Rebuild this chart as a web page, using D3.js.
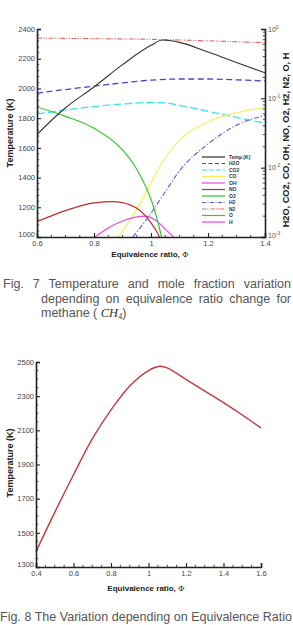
<!DOCTYPE html>
<html>
<head>
<meta charset="utf-8">
<script src="https://cdn.jsdelivr.net/npm/d3@7"></script>
<style>
  body { margin: 0; background: #fff; }
  svg { display: block; }
  .tick text { font-family: Arial, "Liberation Sans", sans-serif; fill: #444; }
  .cap { font-family: "Liberation Sans", Arial, sans-serif; fill: #555; font-size: 12.5px; }
  .ttl { font-family: Arial, "Liberation Sans", sans-serif; font-weight: bold; fill: #222; }
</style>
</head>
<body>
<div id="main"></div>
<script>
const ctx = { w: 293, h: 625 };

// ---- Fig. 7 data ----
const tempPhi = [0.6, 0.7, 0.8, 0.9, 1.0, 1.04, 1.1, 1.2, 1.3, 1.4];
const tempK   = [1690, 1870, 2010, 2160, 2290, 2326, 2310, 2245, 2175, 2105];

const h2oPhi = [0.6, 0.7, 0.8, 0.9, 1.0, 1.1, 1.2, 1.3, 1.4];
const h2oX   = [0.119, 0.134, 0.150, 0.167, 0.183, 0.190, 0.190, 0.185, 0.178];
const co2Phi = [0.6, 0.7, 0.8, 0.9, 1.0, 1.05, 1.1, 1.2, 1.3, 1.4];
const co2X   = [0.059, 0.068, 0.076, 0.083, 0.087, 0.086, 0.079, 0.065, 0.053, 0.044];
const coPhi  = [0.885, 0.95, 1.0, 1.05, 1.1, 1.15, 1.2, 1.3, 1.4];
const coX    = [0.001, 0.0025, 0.006, 0.014, 0.025, 0.036, 0.046, 0.062, 0.074];
const ohPhi  = [0.803, 0.85, 0.9, 0.95, 0.98, 1.02, 1.05, 1.08];
const ohX    = [0.001, 0.00135, 0.0017, 0.00195, 0.002, 0.0017, 0.0013, 0.001];
const noPhi  = [0.6, 0.7, 0.8, 0.87, 0.95, 1.0, 1.02, 1.03];
const noX    = [0.00166, 0.0024, 0.0031, 0.00323, 0.0026, 0.0016, 0.0012, 0.001];
const o2Phi  = [0.6, 0.7, 0.8, 0.9, 0.95, 0.98, 1.0, 1.02, 1.037];
const o2X    = [0.075, 0.055, 0.037, 0.018, 0.0095, 0.0055, 0.0035, 0.0019, 0.001];
const h2Phi  = [0.936, 1.0, 1.05, 1.1, 1.2, 1.3, 1.4];
const h2X    = [0.001, 0.0022, 0.0045, 0.009, 0.022, 0.041, 0.057];
const n2Phi  = [0.6, 0.8, 1.0, 1.2, 1.4];
const n2X    = [0.74, 0.725, 0.71, 0.675, 0.635];

const legendNames = ["Temp.(K)", "H2O", "CO2", "CO", "OH", "NO", "O2", "H2", "N2", "O", "H"];

// ---- Fig. 8 data ----
const flamePhi = [0.4, 0.5, 0.6, 0.7, 0.8, 0.9, 1.0, 1.06, 1.1, 1.2, 1.3, 1.4, 1.5, 1.6];
const flameK   = [1390, 1620, 1840, 2050, 2220, 2360, 2450, 2475, 2466, 2398, 2330, 2262, 2190, 2114];

const species = [
  { name: "H2O", phi: h2oPhi, x: h2oX, color: "#4444d8", dash: "6,3.5", w: 1.3 },
  { name: "CO2", phi: co2Phi, x: co2X, color: "#3ce4ec", dash: "8,3", w: 1.3 },
  { name: "CO",  phi: coPhi,  x: coX,  color: "#f4f25a", dash: null, w: 1.2 },
  { name: "OH",  phi: ohPhi,  x: ohX,  color: "#e64ae6", dash: null, w: 1.2 },
  { name: "NO",  phi: noPhi,  x: noX,  color: "#c42a2a", dash: null, w: 1.2 },
  { name: "O2",  phi: o2Phi,  x: o2X,  color: "#38c438", dash: null, w: 1.2 },
  { name: "H2",  phi: h2Phi,  x: h2X,  color: "#5a5ae0", dash: "5,2,1.2,2", w: 1.1 },
  { name: "N2",  phi: n2Phi,  x: n2X,  color: "#e06666", dash: "5,1.5,1,1.5,1,1.5", w: 1.1 }
];
const legendStyle = {
  "Temp.(K)": { color: "#333", dash: null },
  "H2O": { color: "#4444d8", dash: "4,2.5" },
  "CO2": { color: "#3ce4ec", dash: "5,2" },
  "CO":  { color: "#f4f25a", dash: null },
  "OH":  { color: "#e64ae6", dash: null },
  "NO":  { color: "#c42a2a", dash: null },
  "O2":  { color: "#38c438", dash: null },
  "H2":  { color: "#5a5ae0", dash: "4,1.5,1,1.5" },
  "N2":  { color: "#e06666", dash: "4,1,1,1,1,1" },
  "O":   { color: "#66b022", dash: null },
  "H":   { color: "#f040f0", dash: null }
};

function minorTicks(g, scale, values, len, dir, vertical) {
  values.forEach(v => {
    const p = scale(v);
    if (vertical) g.append("line").attr("x1", 0).attr("x2", dir * len).attr("y1", p).attr("y2", p);
    else g.append("line").attr("y1", 0).attr("y2", dir * len).attr("x1", p).attr("x2", p);
  });
  g.selectAll("line").attr("stroke", "#222").attr("stroke-width", 0.8);
}

function styleAxis(g) {
  g.select(".domain").attr("stroke", "#222").attr("stroke-width", 1.6);
  g.selectAll(".tick line").attr("stroke", "#222").attr("stroke-width", 1.1);
}

// spread words so the line fills the given width (justified caption)
function justify(t, width) {
  const words = t.text().split(" ").length - 1;
  let w = t.node().getComputedTextLength();
  let fs = 12.5;
  while (w > width && fs > 9) {
    fs -= 0.25;
    t.style("font-size", fs + "px");
    w = t.node().getComputedTextLength();
  }
  if (words > 0) t.attr("word-spacing", Math.max(0, (width - w) / words));
}

function drawFig7(svg) {
  const L = 37, R = 265, T = 29, B = 237;
  const x = d3.scaleLinear().domain([0.6, 1.4]).range([L, R]);
  const yT = d3.scaleLinear().domain([1000, 2400]).range([B, T]);
  const yX = d3.scaleLog().domain([1e-3, 1]).range([B, T]);

  svg.append("clipPath").attr("id", "c7")
    .append("rect").attr("x", L).attr("y", T - 2).attr("width", R - L).attr("height", B - T + 2);

  const plot = svg.append("g").attr("clip-path", "url(#c7)");
  const line = d3.line().curve(d3.curveMonotoneX);

  species.forEach(s => {
    plot.append("path")
      .attr("d", line(s.phi.map((p, i) => [x(p), yX(s.x[i])])))
      .attr("fill", "none").attr("stroke", s.color)
      .attr("stroke-width", s.w).attr("stroke-dasharray", s.dash);
  });
  plot.append("path")
    .attr("d", line(tempPhi.map((p, i) => [x(p), yT(tempK[i])])))
    .attr("fill", "none").attr("stroke", "#333").attr("stroke-width", 1.1);

  // axes
  const gx = svg.append("g").attr("transform", `translate(0,${B})`)
    .call(d3.axisBottom(x).tickValues([0.6, 0.8, 1, 1.2, 1.4]).tickSize(-4).tickPadding(3.5)
      .tickFormat(d3.format("~g")));
  gx.selectAll(".tick text").attr("font-size", 7.5);
  styleAxis(gx);
  minorTicks(gx.append("g"), x, d3.range(0.65, 1.4, 0.05).filter(v => Math.round(v * 100) % 20 !== 0), 2.2, -1, false);

  const gl = svg.append("g").attr("transform", `translate(${L},0)`)
    .call(d3.axisLeft(yT).tickValues(d3.range(1000, 2401, 200)).tickSize(-4).tickPadding(2)
      .tickFormat(d3.format("d")));
  gl.selectAll(".tick text").attr("font-size", 7.5).attr("dy", d => d === 1000 ? "-0.05em" : "0.3em");
  styleAxis(gl);
  minorTicks(gl.append("g"), yT, d3.range(1040, 2400, 40).filter(v => v % 200 !== 0), 2.2, 1, true);

  const gr = svg.append("g").attr("transform", `translate(${R},0)`)
    .call(d3.axisRight(yX).tickValues([1e-3, 1e-2, 1e-1, 1]).tickSize(-4).tickFormat(() => ""));
  styleAxis(gr);
  const minors = [];
  [1e-3, 1e-2, 1e-1].forEach(d => { for (let k = 2; k <= 9; k++) minors.push(d * k); });
  minorTicks(gr.append("g"), yX, minors, 2.2, -1, true);
  [0, -1, -2, -3].forEach(e => {
    const t = svg.append("text").attr("x", R + 3).attr("y", yX(Math.pow(10, e)) + (e === -3 ? 0.5 : 2.5))
      .attr("font-family", "Arial, sans-serif").attr("font-size", 7).attr("fill", "#555");
    t.append("tspan").text("10");
    t.append("tspan").attr("dy", -3).attr("font-size", 5).text(e);
  });

  // titles
  const xt = svg.append("text").attr("class", "ttl").attr("x", 150).attr("y", 257)
    .attr("text-anchor", "middle").attr("font-size", 8);
  xt.append("tspan").text("Equivalence ratio,  ");
  xt.append("tspan").attr("font-weight", "normal").attr("font-family", "DejaVu Serif, serif").text("Φ");

  svg.append("text").attr("class", "ttl")
    .attr("transform", "translate(13,133) rotate(-90)")
    .attr("text-anchor", "middle").attr("font-size", 9).text("Temperature (K)");
  svg.append("text").attr("class", "ttl")
    .attr("transform", "translate(289,140) rotate(-90)")
    .attr("text-anchor", "middle").attr("font-size", 9.2)
    .text("H2O, CO2, CO, OH, NO, O2, H2, N2, O, H");

  // legend
  const lg = svg.append("g").attr("transform", "translate(202,157)");
  legendNames.forEach((n, i) => {
    const st = legendStyle[n];
    lg.append("line").attr("x1", 0).attr("x2", 23).attr("y1", i * 6.5).attr("y2", i * 6.5)
      .attr("stroke", st.color).attr("stroke-width", 1.2).attr("stroke-dasharray", st.dash);
    lg.append("text").attr("x", 27).attr("y", i * 6.5 + 1.8)
      .attr("font-family", "Arial, sans-serif").attr("font-size", 5).attr("font-weight", "bold")
      .attr("fill", "#333").text(n);
  });

  // caption
  justify(svg.append("text").attr("class", "cap").attr("x", 3).attr("y", 288)
    .text("Fig. 7 Temperature and mole fraction variation"), 288);
  justify(svg.append("text").attr("class", "cap").attr("x", 41).attr("y", 303)
    .text("depending on equivalence ratio change for"), 250);
  const c3 = svg.append("text").attr("class", "cap").attr("x", 41).attr("y", 317);
  c3.append("tspan").text("methane ( ");
  c3.append("tspan").attr("font-family", "Liberation Serif, serif").attr("font-style", "italic")
    .attr("fill", "#333").text("CH");
  c3.append("tspan").attr("font-family", "Liberation Serif, serif").attr("font-size", 8)
    .attr("dy", 2).attr("fill", "#333").text("4");
  c3.append("tspan").attr("dy", -2).text(")");
}

function drawFig8(svg) {
  const L = 36, R = 261, T = 362, B = 567;
  const x = d3.scaleLinear().domain([0.4, 1.6]).range([L, R]);
  const y = d3.scaleLinear().domain([1300, 2500]).range([B, T]);

  svg.append("path")
    .attr("d", d3.line().curve(d3.curveCatmullRom.alpha(0.5))(flamePhi.map((p, i) => [x(p), y(flameK[i])])))
    .attr("fill", "none").attr("stroke", "#c43a3a").attr("stroke-width", 1.4);

  const gx = svg.append("g").attr("transform", `translate(0,${B})`)
    .call(d3.axisBottom(x).tickValues([0.4, 0.6, 0.8, 1, 1.2, 1.4, 1.6]).tickSize(-4).tickPadding(3.5)
      .tickFormat(d3.format("~g")));
  gx.selectAll(".tick text").attr("font-size", 7.5);
  styleAxis(gx);
  minorTicks(gx.append("g"), x, d3.range(0.45, 1.6, 0.05).filter(v => Math.round(v * 100) % 20 !== 0), 2.2, -1, false);

  const gy = svg.append("g").attr("transform", `translate(${L},0)`)
    .call(d3.axisLeft(y).tickValues(d3.range(1300, 2501, 200)).tickSize(-4).tickPadding(2)
      .tickFormat(d3.format("d")));
  gy.selectAll(".tick text").attr("font-size", 7.5).attr("dy", d => d === 1300 ? "-0.05em" : "0.3em");
  styleAxis(gy);
  minorTicks(gy.append("g"), y, d3.range(1350, 2500, 50).filter(v => (v - 1300) % 200 !== 0), 2.2, 1, true);

  const xt = svg.append("text").attr("class", "ttl").attr("x", 146).attr("y", 591)
    .attr("text-anchor", "middle").attr("font-size", 8);
  xt.append("tspan").text("Equivalence ratio,  ");
  xt.append("tspan").attr("font-weight", "normal").attr("font-family", "DejaVu Serif, serif").text("Φ");

  svg.append("text").attr("class", "ttl")
    .attr("transform", "translate(13,463) rotate(-90)")
    .attr("text-anchor", "middle").attr("font-size", 9).text("Temperature (K)");

  justify(svg.append("text").attr("class", "cap").attr("x", 0).attr("y", 621)
    .text("Fig. 8 The Variation depending on Equivalence Ratio"), 292);
}

function createViz() {
  const svg = d3.select("#main").append("svg").attr("width", ctx.w).attr("height", ctx.h);
  svg.append("rect").attr("width", ctx.w).attr("height", ctx.h).attr("fill", "#fff");
  drawFig7(svg);
  drawFig8(svg);
}
createViz();
</script>
</body>
</html>
